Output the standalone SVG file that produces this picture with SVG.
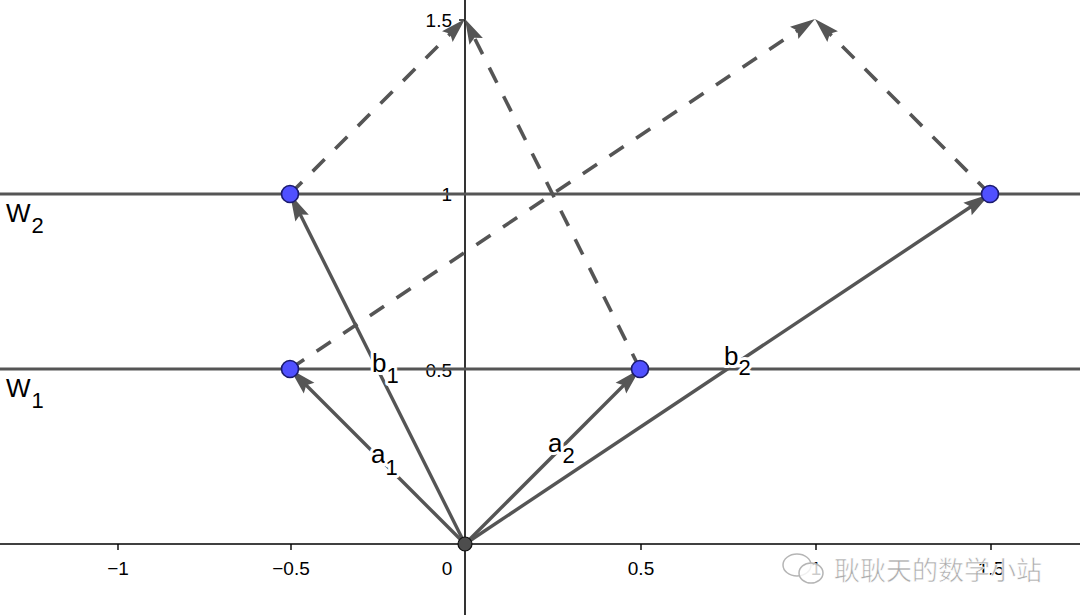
<svg xmlns="http://www.w3.org/2000/svg" width="1080" height="615" viewBox="0 0 1080 615">
<defs>
<style>
.axis{stroke:#000;stroke-width:1.6;fill:none}
.tick{stroke:#000;stroke-width:1.4}
.hline{stroke:#555;stroke-width:3.2;fill:none}
.vec{stroke:#555;stroke-width:3.4;fill:none;marker-end:url(#ahs)}
.dash{stroke:#555;stroke-width:3.6;fill:none;stroke-dasharray:17 15;marker-end:url(#ahd)}
.num{font-family:"Liberation Sans",Arial,sans-serif;font-size:19px;fill:#000}
.lab{font-family:"Liberation Sans",Arial,sans-serif;font-size:26px;fill:#000;stroke:#fff;stroke-width:6;stroke-linejoin:round;paint-order:stroke}
.sub{font-size:22px}
.pt{fill:#5050ff;stroke:#1a1a6e;stroke-width:1.6}
.wm{font-family:"Noto Sans CJK SC",sans-serif;font-size:26px;fill:#ababab;stroke:#fff;stroke-width:0.6}
</style>
<marker id="ahs" viewBox="-28 -9 30 18" refX="0" refY="0" markerWidth="30" markerHeight="18" markerUnits="userSpaceOnUse" orient="auto">
<path d="M0,0 L-27,-7.5 L-23,0 L-27,7.5 Z" fill="#555"/>
</marker>
<marker id="ahd" viewBox="-28 -9 30 18" refX="-18" refY="0" markerWidth="30" markerHeight="18" markerUnits="userSpaceOnUse" orient="auto">
<path d="M0,0 L-25,-7.5 L-21,0 L-25,7.5 Z" fill="#555"/>
</marker>
</defs>
<rect width="1080" height="615" fill="#fff"/>

<g id="axes">
<line class="axis" x1="0" y1="544" x2="1080" y2="544"/>
<line class="axis" x1="465" y1="0" x2="465" y2="615"/>
<g class="tick">
<line x1="118" y1="544" x2="118" y2="550"/>
<line x1="291" y1="544" x2="291" y2="550"/>
<line x1="641" y1="544" x2="641" y2="550"/>
<line x1="816" y1="544" x2="816" y2="550"/>
<line x1="991" y1="544" x2="991" y2="550"/>
<line x1="459" y1="20" x2="465" y2="20"/>
<line x1="459" y1="194" x2="465" y2="194"/>
<line x1="459" y1="369" x2="465" y2="369"/>
</g>
<g class="num">
<text x="118" y="575" text-anchor="middle">−1</text>
<text x="291" y="575" text-anchor="middle">−0.5</text>
<text x="447" y="575" text-anchor="middle">0</text>
<text x="641" y="575" text-anchor="middle">0.5</text>
<text x="816" y="575" text-anchor="middle">1</text>
<text x="991" y="575" text-anchor="middle">1.5</text>
<text x="452" y="27" text-anchor="end">1.5</text>
<text x="452" y="201" text-anchor="end">1</text>
<text x="452" y="377" text-anchor="end">0.5</text>
</g>
</g>

<g id="lines">
<line id="W2" class="hline" x1="0" y1="194" x2="1080" y2="194"/>
<line id="W1" class="hline" x1="0" y1="369" x2="1080" y2="369"/>
</g>

<g id="connectors">
<line class="dash" x1="290" y1="194" x2="452.3" y2="31.7"/>
<line class="dash" x1="640" y1="369" x2="473.05" y2="35.1"/>
<line class="dash" x1="290" y1="369" x2="800" y2="29"/>
<line class="dash" x1="990" y1="194" x2="827.7" y2="31.7"/>
<line id="a1" class="vec" x1="465" y1="544" x2="290" y2="369"/>
<line id="b1" class="vec" x1="465" y1="544" x2="290" y2="194"/>
<line id="a2" class="vec" x1="465" y1="544" x2="640" y2="369"/>
<line id="b2" class="vec" x1="465" y1="544" x2="990" y2="194"/>
</g>

<g id="labels">
<text class="lab" x="6" y="222">W<tspan class="sub" dx="1" dy="11">2</tspan></text>
<text class="lab" x="6" y="397">W<tspan class="sub" dx="1" dy="11">1</tspan></text>
<text class="lab" x="372" y="372">b<tspan class="sub" dx="0" dy="11">1</tspan></text>
<text class="lab" x="371" y="463">a<tspan class="sub" dx="0" dy="12">1</tspan></text>
<text class="lab" x="548" y="452">a<tspan class="sub" dx="0" dy="11">2</tspan></text>
<text class="lab" x="724" y="365">b<tspan class="sub" dx="0" dy="10">2</tspan></text>
</g>

<g id="points">
<circle id="P1" class="pt" cx="290" cy="194" r="8.5"/>
<circle id="P2" class="pt" cx="290" cy="369" r="8.5"/>
<circle id="P3" class="pt" cx="640" cy="369" r="8.5"/>
<circle id="P4" class="pt" cx="990" cy="194" r="8.5"/>
<circle id="O" cx="465" cy="544" r="7" fill="#4d4d4d" stroke="#111" stroke-width="1.2"/>
</g>

<g id="watermark">
<ellipse cx="797" cy="565" rx="14" ry="11" fill="none" stroke="#b5b5b5" stroke-width="1.5"/>
<ellipse cx="811" cy="573" rx="12" ry="10" fill="#fff" fill-opacity="0.8" stroke="#b5b5b5" stroke-width="1.5"/>
<text class="wm" x="834" y="580">耿耿天的数学小站</text>
</g>
</svg>
